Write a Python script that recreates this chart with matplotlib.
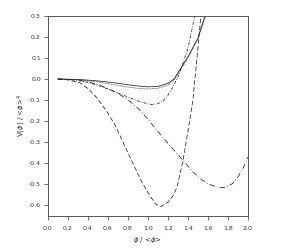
import matplotlib
matplotlib.use("Agg")
import matplotlib.pyplot as plt

# curves (x = phi/<phi>, y = V/<phi>^4)
solid_x = [0.1, 0.2, 0.3, 0.4, 0.5, 0.6, 0.7, 0.8, 0.9, 1.0, 1.1, 1.2, 1.26, 1.32, 1.4, 1.5, 1.57]
solid_y = [0.0, -0.001, -0.002, -0.005, -0.009, -0.014, -0.02, -0.027, -0.033, -0.037, -0.035, -0.02, 0.0, 0.045, 0.105, 0.195, 0.3]

dot_x = [0.1, 0.2, 0.3, 0.4, 0.5, 0.6, 0.7, 0.8, 0.9, 1.0, 1.1, 1.2, 1.26, 1.32, 1.4, 1.5, 1.58]
dot_y = [0.0, -0.001, -0.003, -0.008, -0.014, -0.022, -0.03, -0.038, -0.044, -0.047, -0.044, -0.028, -0.006, 0.038, 0.1, 0.19, 0.3]

dd_x = [0.1, 0.2, 0.3, 0.4, 0.5, 0.6, 0.7, 0.8, 0.9, 1.0, 1.05, 1.1, 1.15, 1.2, 1.25, 1.3, 1.35, 1.4, 1.47]
dd_y = [0.0, -0.002, -0.007, -0.016, -0.03, -0.047, -0.066, -0.085, -0.104, -0.118, -0.121, -0.117, -0.104, -0.077, -0.038, 0.01, 0.075, 0.145, 0.3]

ldd_x = [0.1, 0.2, 0.3, 0.4, 0.5, 0.6, 0.7, 0.8, 0.9, 1.0, 1.05, 1.2, 1.35, 1.45, 1.53, 1.6, 1.7, 1.78, 1.85, 1.9, 1.95, 2.0]
ldd_y = [0.0, -0.001, -0.005, -0.013, -0.026, -0.045, -0.068, -0.098, -0.138, -0.19, -0.22, -0.305, -0.385, -0.44, -0.475, -0.497, -0.515, -0.515, -0.495, -0.465, -0.425, -0.37]

dash_x = [0.1, 0.2, 0.32, 0.4, 0.49, 0.59, 0.67, 0.79, 0.86, 0.93, 1.0, 1.08, 1.13, 1.2, 1.25, 1.29, 1.35, 1.4, 1.45, 1.49, 1.53]
dash_y = [0.0, -0.004, -0.018, -0.045, -0.089, -0.155, -0.217, -0.34, -0.41, -0.48, -0.54, -0.595, -0.605, -0.585, -0.555, -0.515, -0.39, -0.25, -0.1, 0.096, 0.3]

xticks = [0.0, 0.2, 0.4, 0.6, 0.8, 1.0, 1.2, 1.4, 1.6, 1.8, 2.0]
yticks = [-0.6, -0.5, -0.4, -0.3, -0.2, -0.1, 0.0, 0.1, 0.2, 0.3]

fig = plt.figure(figsize=(2.82, 2.52), dpi=100)
ax = fig.add_axes([0.170, 0.143, 0.709, 0.794])

lw = 0.55
col = "#222222"
ax.plot(solid_x, solid_y, color=col, lw=lw, ls="-")
ax.plot(dot_x, dot_y, color=col, lw=lw, ls=(0, (1, 1)))
ax.plot(dd_x, dd_y, color=col, lw=lw, ls=(0, (4, 2, 1, 2)))
ax.plot(ldd_x, ldd_y, color=col, lw=lw, ls=(0, (7, 3, 1, 3)))
ax.plot(dash_x, dash_y, color=col, lw=lw, ls=(0, (6, 3)))

ax.set_xlim(0, 2.0)
ax.set_ylim(-0.65, 0.3)
ax.set_xticks(xticks)
ax.set_yticks(yticks)
ax.set_xticklabels([f"{t:.1f}" for t in xticks])
ax.set_yticklabels([f"{t:.1f}" for t in yticks])

for s in ax.spines.values():
    s.set_color("#555555")
    s.set_linewidth(0.7)
ax.tick_params(direction="out", length=3, width=0.6, color="#555555",
               labelsize=4.5, labelcolor="#333333")
ax.tick_params(axis="x", pad=4)
ax.tick_params(axis="y", pad=2)

ax.set_xlabel(r"$\phi$ / <$\phi$>", fontsize=5, color="#333333", labelpad=3)
ax.set_ylabel(r"V($\phi$) / <$\phi$>$^4$", fontsize=5, color="#333333", labelpad=0.5)

fig.savefig("out.png", dpi=100)
